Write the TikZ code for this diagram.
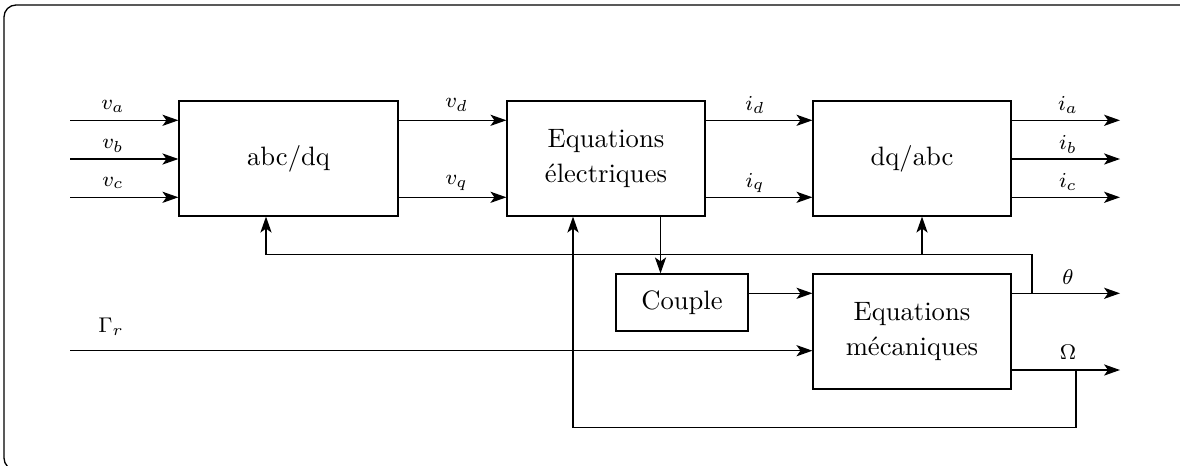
\documentclass[tikz,border=0pt]{standalone}
\usetikzlibrary{arrows.meta}
\begin{document}
\begin{tikzpicture}[x=0.376pt,y=-0.376pt,
  line width=0.5pt,
  arr/.style={-{Stealth[length=6pt,width=4.2pt,inset=1.5pt]}},
  blk/.style={draw,align=center,inner sep=0pt,font=\normalsize},
  lbl/.style={inner sep=0pt,font=\footnotesize}]
\useasboundingbox (0,0) rectangle (1180,465);
\begin{scope}
\clip (0,0) rectangle (1180,465);
\draw[rounded corners=4.5pt] (4,5) rectangle (1192,470);
\end{scope}
% blocks
\node[blk,minimum width=82.3pt,minimum height=43.2pt] (abc) at (288.5,158.5) {abc/dq};
\node[blk,minimum width=74.4pt,minimum height=43.2pt] (elec) at (606,158.5) {Equations\\[1.2pt]électriques};
\node[blk,minimum width=74.4pt,minimum height=43.2pt] (dqabc) at (912,158.5) {dq/abc};
\node[blk,minimum width=49.6pt,minimum height=21.4pt] (couple) at (682,302.5) {Couple};
\node[blk,minimum width=74.4pt,minimum height=43.2pt] (mech) at (912,331.5) {Equations\\[1.2pt]mécaniques};
% free ends
\coordinate (va) at (70,120.3);
\coordinate (vb) at (70,159);
\coordinate (vc) at (70,197.3);
\coordinate (ia) at (1120,120.3);
\coordinate (ib) at (1120,159);
\coordinate (ic) at (1120,197.3);
\coordinate (gr) at (70,350.7);
\coordinate (th) at (1120,293.3);
\coordinate (om) at (1120,370);
\coordinate (fbA) at (1032,293.3);
\coordinate (fbB) at (266,254.3);
\coordinate (fbC) at (922,254.3);
\coordinate (omA) at (1076,370);
\coordinate (omB) at (573,427.3);
\coordinate (cpx) at (660.5,0);
% inputs
\draw[arr] (va) -- (va -| abc.west);
\draw[arr] (vb) -- (vb -| abc.west);
\draw[arr] (vc) -- (vc -| abc.west);
\draw[arr] (va -| abc.east) -- (va -| elec.west);
\draw[arr] (vc -| abc.east) -- (vc -| elec.west);
\draw[arr] (va -| elec.east) -- (va -| dqabc.west);
\draw[arr] (vc -| elec.east) -- (vc -| dqabc.west);
\draw[arr] (ia -| dqabc.east) -- (ia);
\draw[arr] (ib -| dqabc.east) -- (ib);
\draw[arr] (ic -| dqabc.east) -- (ic);
% mechanical part
\draw[arr] (cpx |- elec.south) -- (cpx |- couple.north);
\draw[arr] (couple.east |- th) -- (mech.west |- th);
\draw[arr] (gr) -- (gr -| mech.west);
\draw[arr] (th -| mech.east) -- (th);
\draw[arr] (om -| mech.east) -- (om);
% feedbacks
\draw[arr] (fbA) |- (fbB) -- (fbB |- abc.south);
\draw[arr] (fbC) -- (fbC |- dqabc.south);
\draw[arr] (omA) |- (omB) -- (omB |- elec.south);
% labels
\node[lbl] (lva) at (113,106.7) {$v_a$};
\node[lbl] (lvb) at (113,145.7) {$v_b$};
\node[lbl] (lvc) at (113,183) {$v_c$};
\node[lbl] (lvd) at (456.7,105) {$v_d$};
\node[lbl] (lvq) at (456.7,183) {$v_q$};
\node[lbl] (lid) at (755,105) {$i_d$};
\node[lbl] (liq) at (755,183) {$i_q$};
\node[lbl] (lia) at (1068,105) {$i_a$};
\node[lbl] (lib) at (1068,144.3) {$i_b$};
\node[lbl] (lic) at (1068,181.7) {$i_c$};
\node[lbl] (lth) at (1068,276.7) {$\theta$};
\node[lbl] (lom) at (1068,352.7) {$\Omega$};
\node[lbl] (lgr) at (111,326.7) {$\Gamma_r$};
\end{tikzpicture}
\end{document}
